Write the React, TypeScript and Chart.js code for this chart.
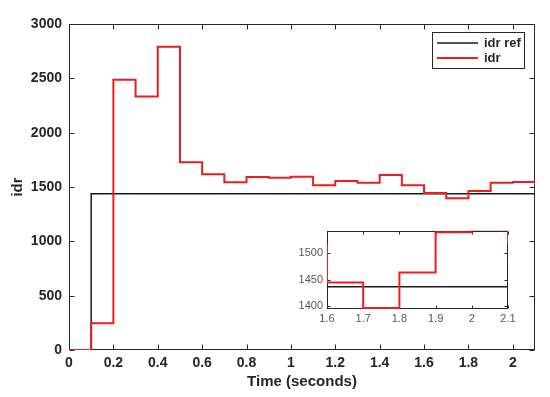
import React, { useEffect, useRef } from "react";
import { Chart, registerables } from "chart.js";
Chart.register(...registerables);

// ---- data ----
const seriesLabels = ["idr ref", "idr"];
const seriesColors = ["#1a1a1a", "#ee1c1c"];
const timeRef = [0, 0.1, 2.1];
const idrRef = [0, 1437, 1437];
const timeIdr = [0, 0.1, 0.2, 0.3, 0.4, 0.5, 0.6, 0.7, 0.8, 0.9, 1.0, 1.1, 1.2, 1.3, 1.4, 1.5, 1.6, 1.7, 1.8, 1.9, 2.0, 2.1];
const idr = [0, 246, 2487, 2333, 2790, 1728, 1617, 1543, 1593, 1586, 1595, 1515, 1556, 1540, 1611, 1515, 1445, 1397, 1464, 1540, 1545, 1517];
const xTicksMain = [0, 0.2, 0.4, 0.6, 0.8, 1, 1.2, 1.4, 1.6, 1.8, 2];
const yTicksMain = [0, 500, 1000, 1500, 2000, 2500, 3000];
const xTicksInset = [1.6, 1.7, 1.8, 1.9, 2, 2.1];
const yTicksInset = [1400, 1450, 1500];

const FONT = "'Liberation Sans', Arial, Helvetica, sans-serif";
const AXIS = "#262626";

const fmt = (v: any) => String(Math.round(Number(v) * 100) / 100);

function makeFrame(tickLen: number) {
  return {
    id: "frameTicks",
    beforeDatasetsDraw(chart: any) {
      const { ctx, chartArea: a, scales } = chart;
      const l = Math.round(a.left) + 0.5, r = Math.round(a.right) - 0.5;
      const t = Math.round(a.top) + 0.5, b = Math.round(a.bottom) - 0.5;
      ctx.save();
      ctx.strokeStyle = AXIS;
      ctx.lineWidth = 1;
      ctx.beginPath();
      for (const tk of scales.x.ticks) {
        const px = Math.round(scales.x.getPixelForValue(tk.value)) + 0.5;
        ctx.moveTo(px, b); ctx.lineTo(px, b - tickLen);
        ctx.moveTo(px, t); ctx.lineTo(px, t + tickLen);
      }
      for (const tk of scales.y.ticks) {
        const py = Math.round(scales.y.getPixelForValue(tk.value)) + 0.5;
        ctx.moveTo(l, py); ctx.lineTo(l + tickLen, py);
        ctx.moveTo(r, py); ctx.lineTo(r - tickLen, py);
      }
      ctx.stroke();
      ctx.strokeRect(l, t, r - l, b - t);
      ctx.restore();
    },
  };
}

const whiteBg = {
  id: "whiteBg",
  beforeDraw(chart: any) {
    const { ctx, width, height } = chart;
    ctx.save();
    ctx.fillStyle = "#fff";
    ctx.fillRect(0, 0, width, height);
    ctx.restore();
  },
};

const boxLegend = {
  id: "boxLegend",
  afterDraw(chart: any) {
    const { ctx, chartArea: a } = chart;
    const w = 92, h = 36;
    const x = Math.round(a.right - 11 - w), y = Math.round(a.top + 8);
    ctx.save();
    ctx.fillStyle = "#fff";
    ctx.fillRect(x, y, w, h);
    ctx.strokeStyle = AXIS;
    ctx.lineWidth = 1;
    ctx.strokeRect(x + 0.5, y + 0.5, w, h);
    chart.data.datasets.forEach((ds: any, i: number) => {
      const ly = y + 11 + i * 15;
      ctx.strokeStyle = ds.borderColor;
      ctx.lineWidth = ds.borderWidth;
      ctx.beginPath();
      ctx.moveTo(x + 5, ly);
      ctx.lineTo(x + 46, ly);
      ctx.stroke();
      ctx.fillStyle = AXIS;
      ctx.font = `bold 13px ${FONT}`;
      ctx.textBaseline = "middle";
      ctx.textAlign = "left";
      ctx.fillText(ds.label, x + 52, ly);
    });
    ctx.restore();
  },
};

function datasets(widthRef: number, widthIdr: number) {
  return [
    {
      label: seriesLabels[0],
      data: timeRef.map((t, i) => ({ x: t, y: idrRef[i] })),
      borderColor: seriesColors[0],
      borderWidth: widthRef,
      pointRadius: 0,
      stepped: "before" as const,
      order: 1,
      fill: false,
    },
    {
      label: seriesLabels[1],
      data: timeIdr.map((t, i) => ({ x: t, y: idr[i] })),
      borderColor: seriesColors[1],
      borderWidth: widthIdr,
      pointRadius: 0,
      stepped: "before" as const,
      order: 0,
      fill: false,
    },
  ];
}

export default function App() {
  const mainRef = useRef<HTMLCanvasElement>(null);
  const insetRef = useRef<HTMLCanvasElement>(null);

  useEffect(() => {
    const main = new Chart(mainRef.current as HTMLCanvasElement, {
      type: "line",
      data: { datasets: datasets(1.5, 2) as any },
      options: {
        responsive: false,
        animation: false,
        events: [],
        layout: { padding: { top: 24, right: 15, left: 0, bottom: 0 } },
        plugins: { legend: { display: false }, tooltip: { enabled: false } },
        scales: {
          x: {
            type: "linear",
            min: 0,
            max: 2.1,
            afterBuildTicks: (s: any) => { s.ticks = xTicksMain.map((v) => ({ value: v })); },
            afterFit: (s: any) => { s.height = 47; },
            grid: { display: false, drawTicks: false },
            border: { display: false },
            ticks: { autoSkip: false, maxRotation: 0, padding: 5, color: AXIS, font: { family: FONT, size: 14, weight: "bold" }, callback: fmt },
            title: { display: true, text: "Time (seconds)", color: AXIS, font: { family: FONT, size: 15, weight: "bold" }, padding: { top: 0, bottom: 6 } },
          },
          y: {
            type: "linear",
            min: 0,
            max: 3000,
            afterBuildTicks: (s: any) => { s.ticks = yTicksMain.map((v) => ({ value: v })); },
            afterFit: (s: any) => { s.width = 69; },
            grid: { display: false, drawTicks: false },
            border: { display: false },
            ticks: { autoSkip: false, padding: 7, color: AXIS, font: { family: FONT, size: 14, weight: "bold" }, callback: fmt },
            title: { display: true, text: "idr", color: AXIS, font: { family: FONT, size: 15, weight: "bold" }, padding: { top: 9, bottom: 0 } },
          },
        },
      },
      plugins: [whiteBg, makeFrame(5), boxLegend],
    } as any);

    const inset = new Chart(insetRef.current as HTMLCanvasElement, {
      type: "line",
      data: { datasets: datasets(1.5, 2) as any },
      options: {
        responsive: false,
        animation: false,
        events: [],
        layout: { padding: { top: 8, right: 12, left: 0, bottom: 0 } },
        plugins: { legend: { display: false }, tooltip: { enabled: false } },
        scales: {
          x: {
            type: "linear",
            min: 1.6,
            max: 2.1,
            afterBuildTicks: (s: any) => { s.ticks = xTicksInset.map((v) => ({ value: v })); },
            afterFit: (s: any) => { s.height = 21; },
            grid: { display: false, drawTicks: false },
            border: { display: false },
            ticks: { autoSkip: false, maxRotation: 0, padding: 3, color: "#555", font: { family: FONT, size: 11 }, callback: fmt },
          },
          y: {
            type: "linear",
            min: 1395,
            max: 1543,
            afterBuildTicks: (s: any) => { s.ticks = yTicksInset.map((v) => ({ value: v })); },
            afterFit: (s: any) => { s.width = 37; },
            grid: { display: false, drawTicks: false },
            border: { display: false },
            ticks: { autoSkip: false, padding: 4, color: "#555", font: { family: FONT, size: 11 }, callback: fmt },
          },
        },
      },
      plugins: [whiteBg, makeFrame(3)],
    } as any);

    return () => {
      main.destroy();
      inset.destroy();
    };
  }, []);

  return (
    <div style={{ position: "absolute", left: 0, top: 0, width: 550, height: 397, background: "#fff" }}>
      <canvas ref={mainRef} width={550} height={397} style={{ position: "absolute", left: 0, top: 0 }} />
      <canvas ref={insetRef} width={230} height={110} style={{ position: "absolute", left: 290, top: 220 }} />
    </div>
  );
}
